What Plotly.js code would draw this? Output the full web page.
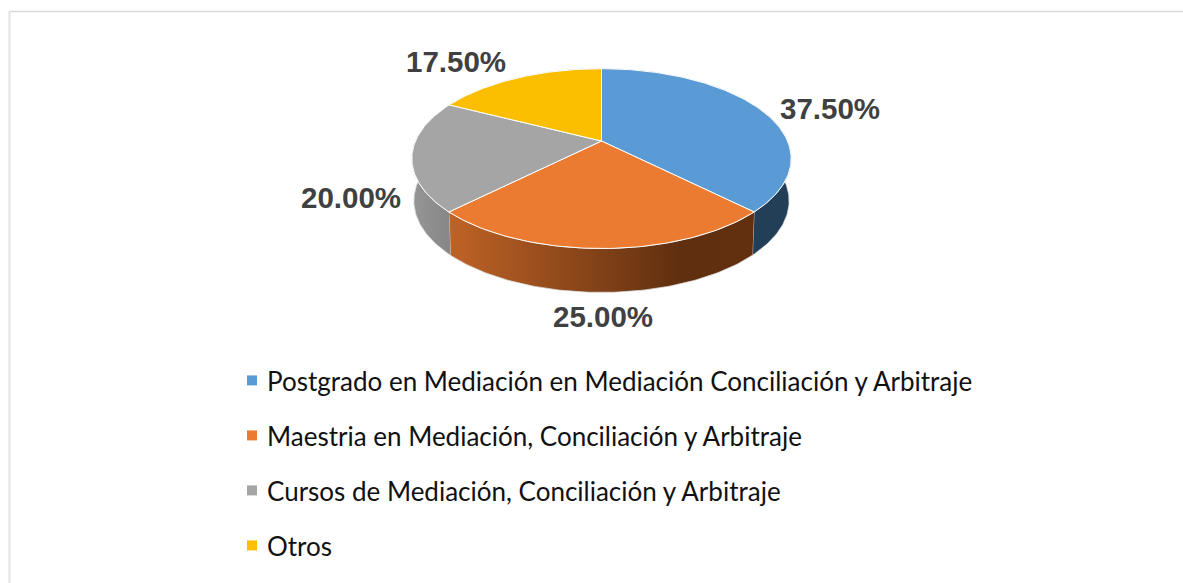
<!DOCTYPE html>
<html>
<head>
<meta charset="utf-8">
<script src="https://cdn.plot.ly/plotly-3.0.1.min.js"></script>
<style>html,body{margin:0;padding:0;background:#fff;overflow:hidden}#chart{width:1183px;height:583px}</style>
</head>
<body>
<div id="chart"></div>
<script>
var categories = ['Postgrado en Mediación en Mediación Conciliación y Arbitraje','Maestria en Mediación, Conciliación y Arbitraje','Cursos de Mediación, Conciliación y Arbitraje','Otros'];
var shares = [37.5, 25, 20, 17.5];
var faceColors = ['#5B9BD5','#EB7B30','#A5A5A5','#FBBF00'];
var sideStops = [
  [[0,'#233F58'],[1,'#233F58']],
  [[0,'#BF6326'],[0.76,'#5F2F10'],[1,'#63300F']],
  [[0,'#969696'],[1,'#868686']],
  [[0,'#7A5C00'],[1,'#7A5C00']]
];
var labelPos = [[830,108],[603,316.5],[350.5,197],[456,61]];

var cx = 601.5, cy = 141, A = 186, B = 86.5, k = 0.1955, A2 = 184, B2 = 88, drop = 42;
function pt(deg, a, b, off) {
  var t = deg * Math.PI / 180, u = Math.sin(t), v = Math.cos(t), w = 1 + k * v;
  return [cx + a * u / w, cy + off - b * v / w];
}
function arc(s, e, a, b, off) {
  var out = [], n = Math.max(2, Math.ceil(e - s));
  for (var i = 0; i <= n; i++) out.push(pt(s + (e - s) * i / n, a, b, off));
  return out;
}
var sides = [], faces = [], legendItems = [], annotations = [], cum = 0, total = shares.reduce(function(p, c){return p + c;}, 0);
shares.forEach(function(val, i) {
  var s = cum / total * 360, e = (cum + val) / total * 360;
  cum += val;
  var side = arc(s, e, A, B, 0).concat(arc(s, e, A2, B2, drop).reverse());
  sides.push({x: side.map(function(p){return p[0];}), y: side.map(function(p){return p[1];}), mode: 'lines', fill: 'toself',
    fillgradient: {type: 'horizontal', colorscale: sideStops[i]}, line: {color: '#D9D9D9', width: 0.75}, showlegend: false, hoverinfo: 'skip'});
  var face = [[cx, cy]].concat(arc(s, e, A, B, 0));
  face.push([cx, cy]);
  faces.push({x: face.map(function(p){return p[0];}), y: face.map(function(p){return p[1];}), mode: 'lines', fill: 'toself',
    fillcolor: faceColors[i], line: {color: '#FFFFFF', width: 1}, showlegend: false, hoverinfo: 'skip'});
  legendItems.push({x: [null], y: [null], mode: 'markers', name: categories[i], legendgroup: 'g' + i,
    marker: {symbol: 'square', size: 10, color: faceColors[i]}});
  annotations.push({x: labelPos[i][0], y: labelPos[i][1], xref: 'x', yref: 'y', text: val.toFixed(2) + '%', showarrow: false,
    font: {family: 'Liberation Sans, Arial, sans-serif', size: 29.5, color: '#404040', weight: 700}});
});
var layout = {
  width: 1183, height: 583, margin: {l: 0, r: 0, t: 0, b: 0}, paper_bgcolor: '#fff', plot_bgcolor: '#fff',
  xaxis: {visible: false, range: [0, 1183], fixedrange: true},
  yaxis: {visible: false, range: [583, 0], fixedrange: true},
  showlegend: true,
  legend: {x: 227 / 1183, y: 1 - 357 / 583, xanchor: 'left', yanchor: 'top', itemwidth: 30, tracegroupgap: 18.2,
    font: {family: 'Lato, sans-serif', size: 26, color: '#111111'}, bgcolor: 'rgba(0,0,0,0)', traceorder: 'grouped'},
  annotations: annotations,
  shapes: [
    {type: 'line', xref: 'paper', yref: 'paper', x0: 9 / 1183, x1: 1, y0: 1 - 11.5 / 583, y1: 1 - 11.5 / 583, line: {color: '#D9D9D9', width: 1.5}},
    {type: 'line', xref: 'paper', yref: 'paper', x0: 9.5 / 1183, x1: 9.5 / 1183, y0: 0, y1: 1 - 11 / 583, line: {color: '#E2E2E2', width: 2}}
  ]
};
Plotly.newPlot('chart', sides.concat(faces, legendItems), layout, {displayModeBar: false, staticPlot: true}).then(function() {
  document.querySelectorAll('.legend .legendpoints').forEach(function(g) { g.setAttribute('transform', 'translate(5,0)'); });
});
</script>
</body>
</html>
